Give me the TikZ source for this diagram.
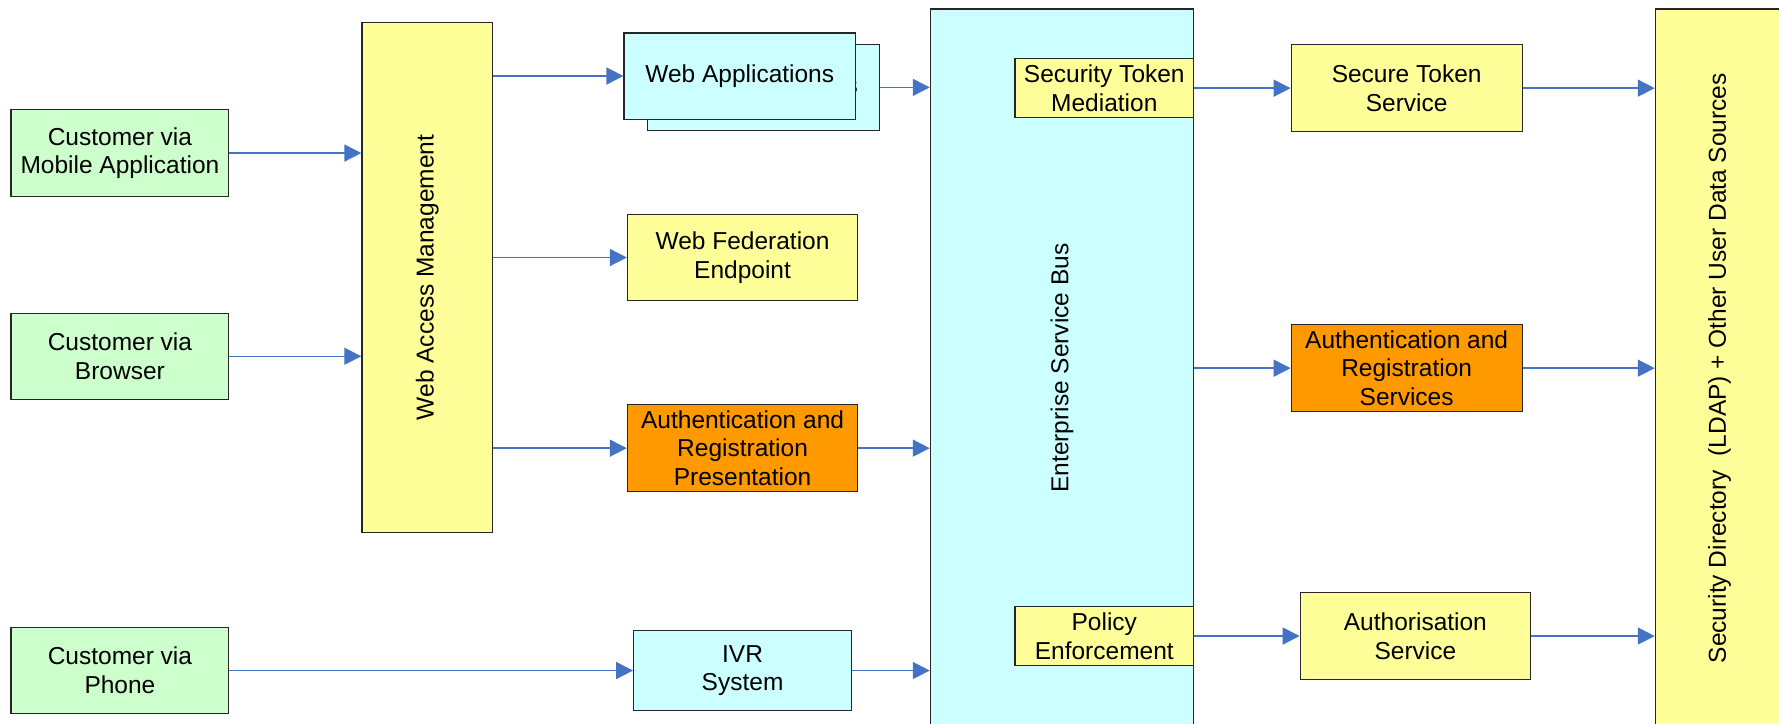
\documentclass[tikz,border=0pt]{standalone}
\usepackage{fontspec}
\setmainfont{Liberation Sans}
\usetikzlibrary{arrows.meta}
\definecolor{cgreen}{HTML}{CCFFCC}
\definecolor{cyellow}{HTML}{FFFF99}
\definecolor{ccyan}{HTML}{CCFFFF}
\definecolor{corange}{HTML}{FF9900}
\definecolor{cblue}{HTML}{4472C4}
\begin{document}
\begin{tikzpicture}[x=0.5673pt,y=-0.5673pt,
  box/.style={draw=black!85, line width=0.6pt, inner sep=0pt, align=center,
    font=\fontsize{12.25pt}{14.3pt}\selectfont},
  wh/.style 2 args={minimum width=#1*0.5673pt, minimum height=#2*0.5673pt},
  arr/.style={draw=cblue, line width=0.75pt, -{Triangle[length=8.5pt,width=8.5pt]}}]
\useasboundingbox (0,0) rectangle (1568,638);
\clip (0,0) rectangle (1568,638);
% left column
\node[box, fill=cgreen, wh={192}{77}] (mobile) at (105.7,134.9) {Customer via\\Mobile Application};
\node[box, fill=cgreen, wh={192}{76}] (browser) at (105.7,314) {Customer via\\Browser};
\node[box, fill=cgreen, wh={192}{76}] (phone) at (105.7,591) {Customer via\\Phone};
% web access management
\node[box, fill=cyellow, wh={115}{449}] (wam) at (376.5,244.5) {\rotatebox{90}{Web Access Management}};
% middle column
\node[box, fill=ccyan, wh={204}{76}] (webapp2) at (673,77) {Web Applications};
\node[box, fill=ccyan, wh={204}{76}] (webapp) at (652,67) {Web Applications};
\node[box, fill=cyellow, wh={203}{76}] (webfed) at (654.5,227) {Web Federation\\Endpoint};
\node[box, fill=corange, wh={203}{77}] (arp) at (654.5,395) {Authentication and\\Registration\\Presentation};
\node[box, fill=ccyan, wh={192}{71}] (ivr) at (654.5,591) {IVR\\System};
% enterprise service bus
\node[box, fill=ccyan, wh={232}{633}] (esb) at (936,324.5) {\rotatebox{90}{Enterprise Service Bus}};
\node[box, fill=cyellow, wh={157.5}{52}] (stm) at (973.3,77.7) {Security Token\\Mediation};
\node[box, fill=cyellow, wh={157.5}{52}] (pe) at (973.3,560.6) {Policy\\Enforcement};
% services
\node[box, fill=cyellow, wh={203.5}{76.6}] (sts) at (1239.8,77.7) {Secure Token\\Service};
\node[box, fill=corange, wh={203.5}{77}] (ars) at (1239.8,324.5) {Authentication and\\Registration\\Services};
\node[box, fill=cyellow, wh={203}{76.3}] (as) at (1247.5,560.6) {Authorisation\\Service};
% directory
\node[box, fill=cyellow, wh={113}{633}] (secdir) at (1515.5,324.5) {\rotatebox{90}{Security Directory\ \ (LDAP) + Other User Data Sources}};
% connectors
\draw[arr] (mobile.east) -- (mobile.east -| wam.west);
\draw[arr] (browser.east) -- (browser.east -| wam.west);
\draw[arr] (phone.east) -- (ivr.west);
\draw[arr] (wam.east |- webapp.west) -- (webapp.west);
\draw[arr] (wam.east |- webfed.west) -- (webfed.west);
\draw[arr] (wam.east |- arp.west) -- (arp.west);
\draw[arr] (webapp2.east) -- (webapp2.east -| esb.west);
\draw[arr] (arp.east) -- (arp.east -| esb.west);
\draw[arr] (ivr.east) -- (ivr.east -| esb.west);
\draw[arr] (stm.east) -- (sts.west);
\draw[arr] (sts.east) -- (sts.east -| secdir.west);
\draw[arr] (esb.east |- ars.west) -- (ars.west);
\draw[arr] (ars.east) -- (ars.east -| secdir.west);
\draw[arr] (pe.east) -- (as.west);
\draw[arr] (as.east) -- (as.east -| secdir.west);
\end{tikzpicture}
\end{document}
